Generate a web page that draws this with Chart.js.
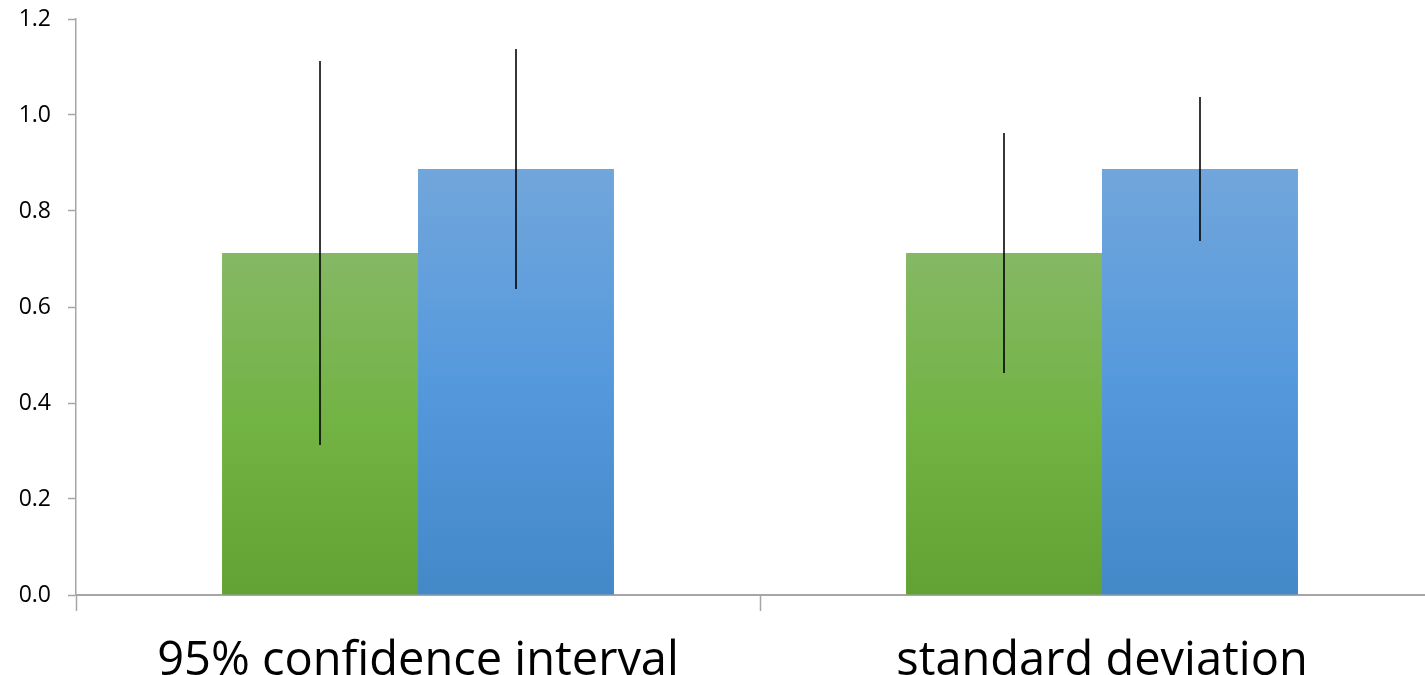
<!DOCTYPE html>
<html>
<head>
<meta charset="utf-8">
<script src="https://cdn.jsdelivr.net/npm/chart.js@4/dist/chart.umd.min.js"></script>
<style>
    html, body { margin: 0; padding: 0; background: #ffffff; overflow: hidden; }
    #wrap { position: relative; width: 1446px; height: 675px; }
</style>
</head>
<body>
<div id="wrap"><canvas id="chart"></canvas></div>
<script>
// Chart data
const categories = ['95% confidence interval', 'standard deviation'];
const greenValues = [0.7125, 0.7125];
const blueValues = [0.8875, 0.8875];
const greenErrors = [0.40, 0.25];
const blueErrors = [0.25, 0.15];
const yTicks = [0, 0.2, 0.4, 0.6, 0.8, 1.0, 1.2];

// Vertical gradient from the top of each bar to its base
function barGradient(stops) {
    return function (context) {
        const chart = context.chart;
        if (!chart.chartArea || !chart.scales.y) return stops[1];
        const y = chart.scales.y;
        const top = y.getPixelForValue(context.raw);
        const base = y.getPixelForValue(0);
        const g = chart.ctx.createLinearGradient(0, top, 0, base);
        g.addColorStop(0, stops[0]);
        g.addColorStop(0.5, stops[1]);
        g.addColorStop(1, stops[2]);
        return g;
    };
}

// Error bar plugin
const errorBars = {
    id: 'errorBars',
    afterDatasetsDraw(chart) {
        const ctx = chart.ctx;
        const y = chart.scales.y;
        const errs = [greenErrors, blueErrors];
        ctx.save();
        ctx.strokeStyle = 'rgba(0, 0, 0, 0.78)';
        ctx.lineWidth = 2;
        chart.data.datasets.forEach((ds, di) => {
            chart.getDatasetMeta(di).data.forEach((bar, i) => {
                const v = ds.data[i];
                const e = errs[di][i];
                ctx.beginPath();
                ctx.moveTo(bar.x, y.getPixelForValue(v + e));
                ctx.lineTo(bar.x, y.getPixelForValue(v - e));
                ctx.stroke();
            });
        });
        ctx.restore();
    }
};

const axisColor = '#a6a6a6';

new Chart(document.getElementById('chart'), {
    type: 'bar',
    data: {
        labels: categories,
        datasets: [
            {
                label: 'Series 1',
                data: greenValues,
                backgroundColor: barGradient(['#85b864', '#72b344', '#62a234']),
                borderWidth: 0
            },
            {
                label: 'Series 2',
                data: blueValues,
                backgroundColor: barGradient(['#71a6db', '#5599dd', '#4388c7']),
                borderWidth: 0
            }
        ]
    },
    options: {
        responsive: true,
        maintainAspectRatio: false,
        animation: false,
        layout: { padding: { top: 19, right: 2, left: 0, bottom: 0 } },
        datasets: {
            bar: { categoryPercentage: 0.573, barPercentage: 1.0 }
        },
        plugins: {
            legend: { display: false },
            tooltip: { enabled: false }
        },
        scales: {
            x: {
                offset: true,
                grid: {
                    offset: true,
                    drawOnChartArea: false,
                    drawTicks: true,
                    tickLength: 16,
                    tickColor: axisColor,
                    tickWidth: 1.5
                },
                border: { color: axisColor, width: 2 },
                ticks: {
                    color: '#000000',
                    padding: 22,
                    maxRotation: 0,
                    font: { family: 'Open Sans', size: 47 }
                },
                afterFit(scale) {
                    scale.height = 80;
                    scale.paddingLeft = 0;
                    scale.paddingRight = 0;
                }
            },
            y: {
                min: 0,
                max: 1.2,
                afterBuildTicks(scale) {
                    scale.ticks = yTicks.map(v => ({ value: v }));
                },
                grid: {
                    drawOnChartArea: false,
                    drawTicks: true,
                    tickLength: 8,
                    tickColor: axisColor,
                    tickWidth: 1.5
                },
                border: { color: axisColor, width: 1.5 },
                ticks: {
                    color: '#000000',
                    padding: 17,
                    font: { family: 'Open Sans', size: 23 },
                    callback: v => Number(v).toFixed(1)
                },
                afterFit(scale) {
                    scale.width = 76;
                    scale.paddingTop = 0;
                    scale.paddingBottom = 0;
                }
            }
        }
    },
    plugins: [errorBars]
});
</script>
</body>
</html>
